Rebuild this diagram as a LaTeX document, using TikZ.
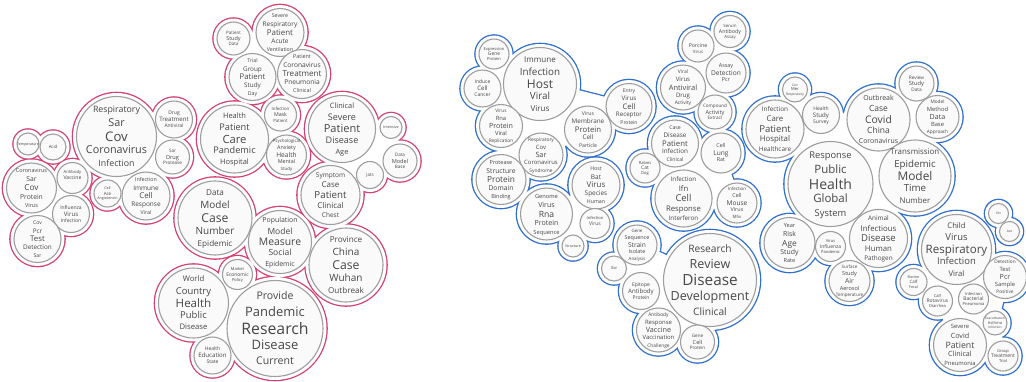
\documentclass[tikz,border=0pt]{standalone}
\usepackage{fontspec}
\setmainfont{Open Sans}
\definecolor{hullpink}{HTML}{D2416F}
\definecolor{hullblue}{HTML}{2F6FCC}
\definecolor{bubline}{HTML}{9E9E9E}
\definecolor{bubfill}{HTML}{FAFAFA}
\definecolor{wordcol}{HTML}{474747}
\tikzset{
  bubble/.style={circle, draw=bubline, line width=1.1pt, fill=bubfill, inner sep=0pt, outer sep=0pt},
  word/.style={inner sep=0pt, outer sep=0pt, text=wordcol, anchor=base},
  hullline/.style={line join=round, line cap=round},
}
\def\hpad{3.5}
\def\hlw{1.3}

\def\LA{28/144/11/la1/{}/{}/Temperature/{}/{},
53/147/13/la2/{}/{}/Acid/{}/{}}
\def\LB{31.5/188/25/lb1/Coronavirus/Sar/Cov/Protein/Virus,
72.5/178/15.5/lb2/{}/Antibody/Vaccine/{}/{},
71/214/18.5/lb3/{}/Influenza/Virus/Infection/{},
37.5/239/23.5/lb4/Cov/Pcr/Test/Detection/Sar}
\def\LC{116.5/136.5/40/lc1/Respiratory/Sar/Cov/Coronavirus/Infection,
174/119.5/18.5/lc2/{}/Drug/Treatment/Antiviral/{},
172.5/157/17/lc3/{}/Sar/Drug/Protease/{},
107.5/193.5/13.5/lc4/{}/Cell/Ace/Angiotensin/{},
146/196/24/lc5/Infection/Immune/Cell/Response/Viral}
\def\LD{233.5/38.5/16.5/ld1/{}/Patient/Study/Data/{},
280/32.5/24/ld2/Severe/Respiratory/Patient/Acute/Ventilation,
252.5/77/23.5/ld3/Trial/Group/Patient/Study/Day,
302/74/24.5/ld4/Patient/Coronavirus/Treatment/Pneumonia/Clinical}
\def\LE{234.5/139/34/le1/Health/Patient/Care/Pandemic/Hospital,
280.5/115/16/le2/{}/Infection/Mask/Patient/{},
286.5/155/20/le3/Psychological/Anxiety/Health/Mental/Study}
\def\LF{342/129/33.5/lf1/Clinical/Severe/Patient/Disease/Age,
391/127.5/11/lf2/{}/{}/Intensive/{}/{},
400/161/17/lf3/{}/Data/Model/Base/{},
370/175/13.5/lf4/{}/{}/Jats/{}/{},
330.5/195/29.5/lf5/Symptom/Case/Patient/Clinical/Chest}
\def\LG{215/218/37/lg1/Data/Model/Case/Number/Epidemic,
280/242/31.5/lg2/Population/Model/Measure/Social/Epidemic,
346/265/37/lg3/Province/China/Case/Wuhan/Outbreak}
\def\LH{193.5/303/35/lh1/World/Country/Health/Public/Disease,
237.5/274.5/15/lh2/{}/Market/Economic/Policy/{},
212.5/355.5/18.5/lh3/{}/Health/Education/State/{},
275/328.5/48/lh4/Provide/Pandemic/Research/Disease/Current}

\def\BA{494/54/15/ba1/{}/Expression/Gene/Protein/{},
482.5/88.5/18.5/ba2/{}/Induce/Cell/Cancer/{},
540/84/36.5/ba3/Immune/Infection/Host/Viral/Virus,
501/126/21.5/ba4/Virus/Rna/Protein/Viral/Replication,
588/129.5/23.5/ba5/Virus/Membrane/Protein/Cell/Particle,
541/155/22/ba6/Respiratory/Cov/Sar/Coronavirus/Syndrome,
501/179.5/25/ba7/Protease/Structure/Protein/Domain/Binding,
629/106.5/23/ba8/Entry/Virus/Cell/Receptor/Protein}
\def\BB{596/185/24/bb1/Host/Bat/Virus/Species/Human,
546.5/214/26/bb2/Genome/Virus/Rna/Protein/Sequence,
595/223.5/15/bb3/{}/Infection/Virus/{}/{},
573/246/11/bb4/{}/{}/Structure/{}/{}}
\def\BC{730/31.5/16/bc1/{}/Serum/Antibody/Assay/{},
698/46/16/bc2/{}/{}/Porcine/Virus/{},
726/73/20/bc3/{}/Assay/Detection/Pcr/{},
683/87.5/22.5/bc4/Viral/Virus/Antiviral/Drug/Activity,
715/112/17/bc5/{}/Compound/Activity/Extract/{}}
\def\BD{675/143.5/23.5/bd1/Case/Disease/Patient/Infection/Clinical,
645/168/15/bd2/{}/Rabies/Cat/Dog/{},
683.5/198.5/28.5/bd3/Infection/Ifn/Cell/Response/Interferon,
721/153/20/bd4/{}/Cell/Lung/Rat/{},
737/203/20/bd5/Infection/Cell/Mouse/Virus/Mhv}
\def\BE{637/245/20/be1/Gene/Sequence/Strain/Isolate/Analysis,
614/268.5/12.5/be2/{}/{}/Ibv/{}/{},
641/291/18.5/be3/{}/Epitope/Antibody/Protein/{},
710/280/46.5/be4/Research/Review/Disease/Development/Clinical,
658.5/330/22/be5/Antibody/Response/Vaccine/Vaccination/Challenge,
697.5/342/17/be6/{}/Gene/Cell/Protein/{}}
\def\BF{795/89.5/12.5/bf1/{}/Cov/Mer/Respiratory/{},
821/115/18.5/bf2/{}/Health/Study/Survey/{},
775/129/29/bf3/Infection/Care/Patient/Hospital/Healthcare,
878.5/119.5/31.5/bf4/Outbreak/Case/Covid/China/Coronavirus,
916.5/83.5/17.5/bf5/{}/Review/Study/Data/{},
937.5/117/21.5/bf6/Model/Method/Data/Base/Approach,
915/176/36/bf7/Transmission/Epidemic/Model/Time/Number,
830.5/184/42.5/bf8/Response/Public/Health/Global/System,
789.5/243/25.5/bf9/Year/Risk/Age/Study/Rate,
830.5/246.5/15/bf10/{}/Virus/Influenza/Pandemic/{},
878.5/238.5/29/bf11/Animal/Infectious/Disease/Human/Pathogen,
849.5/281/20.5/bf12/Surface/Study/Air/Aerosol/Temperature}
\def\BG{956.5/249.5/35/bg1/Child/Virus/Respiratory/Infection/Viral,
1005/277/21.5/bg3/Detection/Test/Pcr/Sample/Positive,
913.5/282/13.5/bg4/{}/Bovine/Calf/Fecal/{},
937.5/301/15/bg5/{}/Calf/Rotavirus/Diarrhea/{},
973.5/299/15/bg6/{}/Infection/Bacterial/Pneumonia/{},
995/323/12/bg7/{}/Exacerbation/Asthma/Infection/{},
960/345/26.5/bg8/Severe/Covid/Patient/Clinical/Pneumonia,
1003/356/15/bg9/{}/Group/Treatment/Trial/{}}
\def\BH{998.5/213.5/10/bh1/{}/{}/Hiv/{}/{},
1009.5/231.5/10/bh2/{}/{}/Ace/{}/{}}

\newcommand\centres[1]{%
  \foreach \px/\py/\rr/\nm/\wA/\wB/\wC/\wD/\wE in #1 {\coordinate (\nm-c) at (\px,\py);}}
\newcommand\hullcol[3]{%
  \foreach \px/\py/\rr/\nm/\wA/\wB/\wC/\wD/\wE in #1 {\fill[#3] (\px,\py) circle[radius={(\rr+\hpad+\hlw)*1pt}];}
  \path[fill=#3, draw=#3, line width=9.6pt, hullline] #2;}
\newcommand\hullwhite[2]{%
  \foreach \px/\py/\rr/\nm/\wA/\wB/\wC/\wD/\wE in #1 {\fill[white] (\px,\py) circle[radius={(\rr+\hpad)*1pt}];}
  \path[fill=white, draw=white, line width=7pt, hullline] #2;}
\newcommand\bubbles[1]{%
  \foreach \px/\py/\rr/\nm/\wA/\wB/\wC/\wD/\wE in #1 {%
    \pgfmathsetmacro\spc{0.33*\rr+0.4}%
    \pgfmathsetmacro\fsA{0.22*\rr}%
    \pgfmathsetmacro\fsB{0.27*\rr}%
    \pgfmathsetmacro\fsC{0.33*\rr}%
    \node[bubble, minimum size={2*\rr*1pt}] (\nm) at (\px,\py) {};
    \node[word] (\nm-1) at (\px,{\py-2*\spc+0.36*\fsA}) {\fontsize{\fsA pt}{\fsA pt}\selectfont \wA};
    \node[word] (\nm-2) at (\px,{\py-\spc+0.36*\fsB}) {\fontsize{\fsB pt}{\fsB pt}\selectfont \wB};
    \node[word] (\nm-3) at (\px,{\py+0.36*\fsC}) {\fontsize{\fsC pt}{\fsC pt}\selectfont \wC};
    \node[word] (\nm-4) at (\px,{\py+\spc+0.36*\fsB}) {\fontsize{\fsB pt}{\fsB pt}\selectfont \wD};
    \node[word] (\nm-5) at (\px,{\py+2*\spc+0.36*\fsA}) {\fontsize{\fsA pt}{\fsA pt}\selectfont \wE};
  }}

\begin{document}
\begin{tikzpicture}[x=1pt,y=-1pt]
\useasboundingbox (0,0) rectangle (1026,381);
\fill[white] (0,0) rectangle (1026,381);
\centres{\LA}\centres{\LB}\centres{\LC}\centres{\LD}\centres{\LE}\centres{\LF}\centres{\LG}\centres{\LH}
\centres{\BA}\centres{\BB}\centres{\BC}\centres{\BD}\centres{\BE}\centres{\BF}\centres{\BG}\centres{\BH}
% hull outlines
\hullcol{\LA}{(la1-c) -- (la2-c)}{hullpink}
\hullcol{\LB}{(lb1-c) -- (lb2-c) -- (lb3-c) -- (lb4-c) -- cycle}{hullpink}
\hullcol{\LC}{(lc1-c) -- (lc2-c) -- (lc3-c) -- (lc5-c) -- (lc4-c) -- cycle}{hullpink}
\hullcol{\LD}{(ld1-c) -- (ld2-c) -- (ld4-c) -- (ld3-c) -- cycle}{hullpink}
\hullcol{\LE}{(le1-c) -- (le2-c) -- (le3-c) -- cycle}{hullpink}
\hullcol{\LF}{(lf1-c) -- (lf2-c) -- (lf3-c) -- (lf4-c) -- (lf5-c) -- cycle}{hullpink}
\hullcol{\LG}{(lg1-c) -- (lg2-c) -- (lg3-c)}{hullpink}
\hullcol{\LH}{(lh1-c) -- (lh2-c) -- (lh4-c) -- (lh3-c) -- cycle}{hullpink}
\hullcol{\BA}{(ba1-c) -- (ba3-c) -- (ba8-c) -- (ba5-c) -- (ba6-c) -- (ba7-c) -- (ba4-c) -- (ba2-c) -- cycle}{hullblue}
\hullcol{\BB}{(bb1-c) -- (bb3-c) -- (bb4-c) -- (bb2-c) -- cycle}{hullblue}
\hullcol{\BC}{(bc2-c) -- (bc1-c) -- (bc3-c) -- (bc5-c) -- (bc4-c) -- cycle}{hullblue}
\hullcol{\BD}{(bd1-c) -- (bd4-c) -- (bd5-c) -- (bd3-c) -- (bd2-c) -- cycle}{hullblue}
\hullcol{\BE}{(be1-c) -- (be4-c) -- (be6-c) -- (be5-c) -- (be3-c) -- (be2-c) -- cycle}{hullblue}
\hullcol{\BF}{(bf1-c) -- (bf2-c) -- (bf4-c) -- (bf5-c) -- (bf6-c) -- (bf7-c) -- (bf11-c) -- (bf12-c) -- (bf10-c) -- (bf9-c) -- (bf8-c) -- (bf3-c) -- cycle}{hullblue}
\hullcol{\BG}{(bg1-c) -- (bg3-c) -- (bg7-c) -- (bg9-c) -- (bg8-c) -- (bg5-c) -- (bg4-c) -- cycle}{hullblue}
\hullcol{\BH}{(bh1-c) -- (bh2-c)}{hullblue}
% hull interiors
\hullwhite{\LA}{(la1-c) -- (la2-c)}
\hullwhite{\LB}{(lb1-c) -- (lb2-c) -- (lb3-c) -- (lb4-c) -- cycle}
\hullwhite{\LC}{(lc1-c) -- (lc2-c) -- (lc3-c) -- (lc5-c) -- (lc4-c) -- cycle}
\hullwhite{\LD}{(ld1-c) -- (ld2-c) -- (ld4-c) -- (ld3-c) -- cycle}
\hullwhite{\LE}{(le1-c) -- (le2-c) -- (le3-c) -- cycle}
\hullwhite{\LF}{(lf1-c) -- (lf2-c) -- (lf3-c) -- (lf4-c) -- (lf5-c) -- cycle}
\hullwhite{\LG}{(lg1-c) -- (lg2-c) -- (lg3-c)}
\hullwhite{\LH}{(lh1-c) -- (lh2-c) -- (lh4-c) -- (lh3-c) -- cycle}
\hullwhite{\BA}{(ba1-c) -- (ba3-c) -- (ba8-c) -- (ba5-c) -- (ba6-c) -- (ba7-c) -- (ba4-c) -- (ba2-c) -- cycle}
\hullwhite{\BB}{(bb1-c) -- (bb3-c) -- (bb4-c) -- (bb2-c) -- cycle}
\hullwhite{\BC}{(bc2-c) -- (bc1-c) -- (bc3-c) -- (bc5-c) -- (bc4-c) -- cycle}
\hullwhite{\BD}{(bd1-c) -- (bd4-c) -- (bd5-c) -- (bd3-c) -- (bd2-c) -- cycle}
\hullwhite{\BE}{(be1-c) -- (be4-c) -- (be6-c) -- (be5-c) -- (be3-c) -- (be2-c) -- cycle}
\hullwhite{\BF}{(bf1-c) -- (bf2-c) -- (bf4-c) -- (bf5-c) -- (bf6-c) -- (bf7-c) -- (bf11-c) -- (bf12-c) -- (bf10-c) -- (bf9-c) -- (bf8-c) -- (bf3-c) -- cycle}
\hullwhite{\BG}{(bg1-c) -- (bg3-c) -- (bg7-c) -- (bg9-c) -- (bg8-c) -- (bg5-c) -- (bg4-c) -- cycle}
\hullwhite{\BH}{(bh1-c) -- (bh2-c)}
% bubbles
\bubbles{\LA}\bubbles{\LB}\bubbles{\LC}\bubbles{\LD}\bubbles{\LE}\bubbles{\LF}\bubbles{\LG}\bubbles{\LH}
\bubbles{\BA}\bubbles{\BB}\bubbles{\BC}\bubbles{\BD}\bubbles{\BE}\bubbles{\BF}\bubbles{\BG}\bubbles{\BH}
\end{tikzpicture}
\end{document}
